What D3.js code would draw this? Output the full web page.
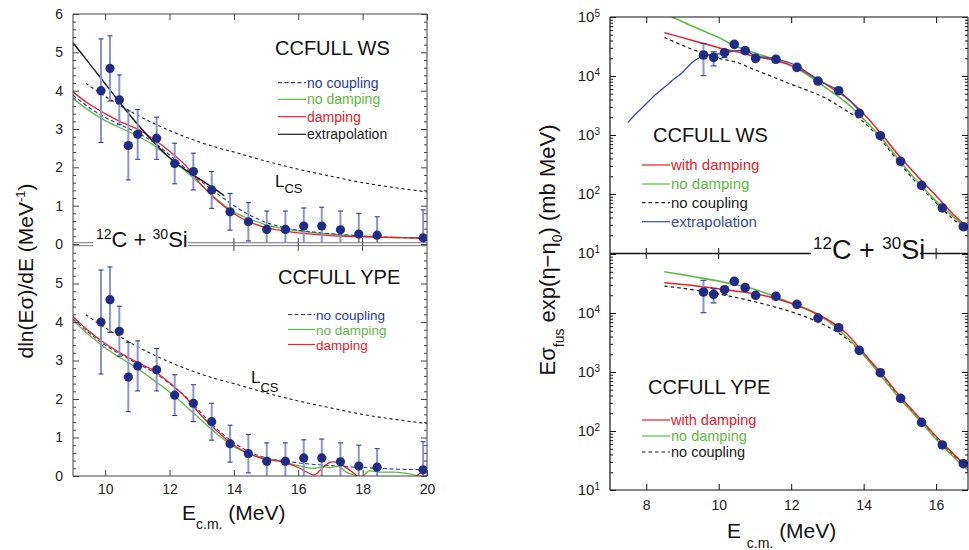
<!DOCTYPE html>
<html>
<head>
<meta charset="utf-8">
<script src="https://cdn.jsdelivr.net/npm/d3@7"></script>
<style>
  body { margin: 0; background: #fff; }
  svg { display: block; font-family: "Liberation Sans", Arial, Helvetica, sans-serif; }
</style>
</head>
<body>
<svg id="chart" width="969" height="550"></svg>
<script>
// ---------------- data: logarithmic slope (left panels) ----------------
const slopeE   = [9.87, 10.15, 10.44, 10.72, 11.01, 11.6, 12.16, 12.74, 13.31, 13.88, 14.45, 15.02, 15.6, 16.17, 16.73, 17.31, 17.88, 18.45, 19.88];
const slopeVal = [4.0, 4.58, 3.76, 2.57, 2.86, 2.76, 2.10, 1.89, 1.41, 0.84, 0.58, 0.38, 0.38, 0.47, 0.47, 0.37, 0.26, 0.23, 0.16];
const slopeErr = [1.35, 0.85, 0.65, 0.90, 0.65, 0.55, 0.53, 0.48, 0.48, 0.48, 0.50, 0.48, 0.48, 0.47, 0.49, 0.49, 0.54, 0.48, 0.73];

const gridL = [9, 9.5, 10, 10.5, 11, 11.5, 12, 12.5, 13, 13.5, 14, 14.5, 15, 15.5, 16, 16.5, 17, 17.5, 18, 18.5, 19, 19.5, 20];

const lcsE = [9.4, 10, 10.5, 11, 11.5, 12, 12.5, 13, 13.5, 14, 15, 16, 17, 18, 19, 20];
const lcs  = [4.19, 3.85, 3.60, 3.36, 3.15, 2.96, 2.79, 2.64, 2.51, 2.40, 2.16, 1.95, 1.77, 1.60, 1.47, 1.36];

// CCFULL WS
const wsDamp   = [3.97, 3.65, 3.40, 3.18, 3.00, 2.74, 2.42, 2.05, 1.53, 1.12, 0.79, 0.57, 0.43, 0.35, 0.29, 0.25, 0.22, 0.20, 0.19, 0.18, 0.17, 0.16, 0.15];
const wsNoDamp = [3.80, 3.48, 3.22, 3.02, 2.82, 2.58, 2.25, 1.90, 1.53, 1.14, 0.83, 0.65, 0.50, 0.41, 0.34, 0.29, 0.26, 0.22, 0.20, 0.18, 0.17, 0.16, 0.15];
const wsNoCoup = [3.88, 3.56, 3.30, 3.10, 2.90, 2.66, 2.32, 1.97, 1.62, 1.30, 1.00, 0.75, 0.56, 0.44, 0.36, 0.31, 0.27, 0.24, 0.21, 0.19, 0.17, 0.16, 0.15];
const extrapE  = [9, 9.5, 10, 10.5, 11, 11.5, 12, 12.5, 13, 13.5, 13.7];
const extrap   = [5.25, 4.72, 4.18, 3.64, 3.13, 2.66, 2.25, 1.93, 1.66, 1.38, 1.26];

// CCFULL YPE
const ypeDampE   = [9, 9.5, 10, 10.5, 11, 11.5, 12, 12.5, 13, 13.5, 14, 14.5, 15, 15.5, 16, 16.25, 16.5, 16.75, 17, 17.25, 17.5, 17.75, 18, 18.5, 19, 19.5, 19.75, 20];
const ypeDamp    = [4.14, 3.76, 3.44, 3.18, 2.95, 2.74, 2.42, 2.04, 1.56, 1.15, 0.80, 0.57, 0.43, 0.37, 0.22, 0.11, 0.03, 0.21, 0.36, 0.34, 0.21, 0.06, -0.12, -0.30, -0.30, -0.10, 0.05, 0.20];
const ypeNoDampE = [9, 9.5, 10, 10.5, 11, 11.5, 12, 12.5, 13, 13.5, 14, 14.5, 15, 15.5, 16, 16.25, 16.5, 16.75, 17, 17.25, 17.5, 17.75, 17.9, 18.05, 18.2, 18.5, 19, 19.5, 19.75, 20];
const ypeNoDamp  = [4.04, 3.66, 3.33, 3.05, 2.80, 2.49, 2.18, 1.82, 1.44, 1.07, 0.76, 0.57, 0.46, 0.38, 0.27, 0.22, 0.20, 0.24, 0.22, 0.25, 0.10, 0.02, -0.04, 0.03, 0.13, 0.10, 0.10, 0.05, 0.00, 0.00];
const ypeNoCoup  = [4.08, 3.72, 3.40, 3.15, 2.92, 2.70, 2.40, 2.06, 1.62, 1.20, 0.86, 0.62, 0.47, 0.40, 0.34, 0.30, 0.27, 0.24, 0.22, 0.20, 0.18, 0.17, 0.16];

// ---------------- data: E*sigma_fus*exp(eta-eta0) (right panels) ----------------
const sfE    = [9.58, 9.86, 10.16, 10.43, 10.73, 11.02, 11.58, 12.16, 12.74, 13.31, 13.88, 14.46, 15.02, 15.6, 16.17, 16.75];
const sfVal  = [22700, 20700, 24800, 34400, 26900, 19900, 19200, 14000, 8220, 5630, 2330, 973, 358, 140, 58, 27.9];
const sfLo   = [10100, 14800, 20500, 30500, 24500, 18900, 18200, 13300, 7800, 5350, 2210, 925, 340, 133, 55, 26.5];
const sfHi   = [35800, 25700, 28000, 38500, 29500, 20900, 20200, 14700, 8630, 5910, 2450, 1020, 376, 147, 61, 29.3];

const gridR = [8.5, 9, 9.5, 10, 10.5, 11, 11.5, 12, 12.5, 13, 13.5, 14, 14.5, 15, 15.5, 16, 16.5, 16.9];

// CCFULL WS
const rWsDamp   = [54200, 44700, 36700, 30200, 25700, 21400, 18600, 15000, 10700, 6920, 4370, 2290, 1020, 427, 195, 93.3, 43.7, 26.3];
const rWsNoDamp = [116100, 83200, 61000, 44700, 31600, 24500, 19700, 15100, 10000, 6030, 3630, 1860, 871, 363, 158, 75.9, 39.8, 24.0];
const rWsNoCoup = [45200, 33100, 25100, 20000, 17000, 12700, 9660, 7240, 5560, 4070, 2630, 1660, 794, 331, 145, 70.8, 36.3, 22.9];
const rExtrapE  = [7.49, 7.75, 8.0, 8.25, 8.5, 8.75, 9.0, 9.25, 9.5, 9.75, 10.16, 10.48, 10.75, 11.03, 11.58, 12.16, 12.74, 13.31, 13.88];
const rExtrap   = [1620, 2400, 3390, 4790, 6460, 8710, 11500, 16600, 20900, 22900, 24500, 26900, 26300, 21900, 19500, 14800, 8510, 5620, 2570];

// CCFULL YPE
const rYpeDamp   = [32700, 30500, 28200, 25700, 23400, 21100, 18200, 14500, 11200, 7760, 4680, 2090, 933, 389, 178, 81.3, 39.8, 23.4];
const rYpeNoDamp = [50100, 44700, 39400, 34700, 29900, 25100, 19500, 14800, 11000, 7410, 4070, 1950, 832, 351, 162, 72.4, 35.5, 20.9];
const rYpeNoCoup = [28600, 26300, 23700, 20900, 18200, 15500, 12900, 10500, 8130, 5890, 3800, 1950, 871, 363, 166, 75.9, 38.0, 22.4];

// ---------------- colours ----------------
const RED = "#e8202c", GREEN = "#5fba45", NAVY = "#2b3a98", BLACK = "#1a1a1a", EXTRA = "#3b4aa6";
const MARK = "#1f2b86", ERRBAR = "#8796cc";

const svg = d3.select("#chart");
const defs = svg.append("defs");
function clip(id, x0, y0, x1, y1) {
  defs.append("clipPath").attr("id", id).append("rect")
    .attr("x", x0).attr("y", y0).attr("width", x1 - x0).attr("height", y1 - y0);
  return `url(#${id})`;
}
const zip = (xs, ys) => xs.map((x, i) => [x, ys[i]]);

// ================= left: slope panels =================
const xL = d3.scaleLinear().domain([9, 20]).range([73, 427]);
const yWS = d3.scaleLinear().domain([0, 6]).range([244, 14]);
const yYP = d3.scaleLinear().domain([0, 6]).range([476, 245]);

function slopePanel(y, clipId, top, bottom, curves, showTopLabel) {
  const g = svg.append("g");
  const cp = clip(clipId, 73, top, 427, bottom);
  const line = d3.line().x(d => xL(d[0])).y(d => y(d[1])).curve(d3.curveCatmullRom.alpha(0.5));
  const cg = g.append("g").attr("clip-path", cp);
  curves.forEach(c => {
    cg.append("path").datum(zip(c.x, c.y)).attr("d", line)
      .attr("fill", "none").attr("stroke", c.color).attr("stroke-width", c.w || 1.3)
      .attr("stroke-dasharray", c.dash || null);
  });
  // data with error bars
  const pg = g.append("g").attr("clip-path", cp);
  slopeE.forEach((e, i) => {
    const x = xL(e), v = slopeVal[i], er = slopeErr[i];
    const yt = y(v + er), yb = Math.min(y(v - er), y(0));
    pg.append("line").attr("x1", x).attr("x2", x).attr("y1", yt).attr("y2", yb)
      .attr("stroke", ERRBAR).attr("stroke-width", 2);
    pg.append("line").attr("x1", x - 2.5).attr("x2", x + 2.5).attr("y1", yt).attr("y2", yt)
      .attr("stroke", MARK).attr("stroke-width", 1);
    if (v - er > 0) pg.append("line").attr("x1", x - 2.5).attr("x2", x + 2.5).attr("y1", yb).attr("y2", yb)
      .attr("stroke", MARK).attr("stroke-width", 1);
    pg.append("circle").attr("cx", x).attr("cy", y(v)).attr("r", 4.6).attr("fill", MARK);
  });
  // axes
  const major = showTopLabel ? [0, 1, 2, 3, 4, 5, 6] : [0, 1, 2, 3, 4, 5];
  const minor = d3.range(0, 30).map(k => k * 0.2).filter(v => Math.abs(v - Math.round(v)) > 1e-6);
  const left = svg.append("g").attr("transform", "translate(73,0)")
    .call(d3.axisLeft(y).tickValues(major).tickFormat(d3.format("d")).tickSize(-6).tickPadding(10));
  left.select(".domain").remove();
  left.selectAll("text").attr("font-size", 14).attr("fill", "#222").attr("font-family", "Liberation Sans, Arial, sans-serif");
  left.selectAll("line").attr("stroke", "#444");
  const lm = svg.append("g").attr("transform", "translate(73,0)")
    .call(d3.axisLeft(y).tickValues(minor).tickFormat("").tickSize(-3));
  lm.select(".domain").remove(); lm.selectAll("line").attr("stroke", "#444");
  const right = svg.append("g").attr("transform", "translate(427,0)")
    .call(d3.axisRight(y).tickValues([0, 1, 2, 3, 4, 5, 6]).tickFormat("").tickSize(-6));
  right.select(".domain").remove(); right.selectAll("line").attr("stroke", "#444");
  const rm = svg.append("g").attr("transform", "translate(427,0)")
    .call(d3.axisRight(y).tickValues(minor).tickFormat("").tickSize(-3));
  rm.select(".domain").remove(); rm.selectAll("line").attr("stroke", "#444");
  return g;
}

slopePanel(yWS, "clipWS", 14, 243, [
  { x: lcsE, y: lcs, color: BLACK, dash: "3,3", w: 1.1 },
  { x: gridL, y: wsNoDamp, color: GREEN },
  { x: gridL, y: wsNoCoup, color: NAVY, dash: "4,2.5", w: 1.1 },
  { x: gridL, y: wsDamp, color: RED },
  { x: extrapE, y: extrap, color: BLACK, w: 1.4 }
], true);

slopePanel(yYP, "clipYP", 246, 476, [
  { x: lcsE, y: lcs, color: BLACK, dash: "3,3", w: 1.1 },
  { x: gridL, y: ypeNoCoup, color: NAVY, dash: "4,2.5", w: 1.1 },
  { x: ypeNoDampE, y: ypeNoDamp, color: GREEN },
  { x: ypeDampE, y: ypeDamp, color: RED }
], false);

// left frame: outer borders
svg.append("line").attr("x1", 73).attr("x2", 73).attr("y1", 14).attr("y2", 476).attr("stroke", "#444");
svg.append("line").attr("x1", 427).attr("x2", 427).attr("y1", 14).attr("y2", 476).attr("stroke", "#444");
svg.append("line").attr("x1", 73).attr("x2", 427).attr("y1", 14).attr("y2", 14).attr("stroke", "#444");
svg.append("line").attr("x1", 73).attr("x2", 427).attr("y1", 476).attr("y2", 476).attr("stroke", "#444");

// top border ticks and bottom axis
const topAx = svg.append("g").attr("transform", "translate(0,14)")
  .call(d3.axisTop(xL).tickValues([10, 12, 14, 16, 18, 20]).tickFormat("").tickSize(-6));
topAx.select(".domain").remove(); topAx.selectAll("line").attr("stroke", "#444");
const botAx = svg.append("g").attr("transform", "translate(0,476)")
  .call(d3.axisBottom(xL).tickValues([10, 12, 14, 16, 18, 20]).tickFormat(d3.format("d")).tickSize(-6).tickPadding(8));
botAx.select(".domain").remove(); botAx.selectAll("line").attr("stroke", "#444");
botAx.selectAll("text").attr("font-size", 14).attr("fill", "#222").attr("font-family", "Liberation Sans, Arial, sans-serif");

// double separator between the two slope panels, with the reaction label
[[73, 93], [188, 427]].forEach(([a, b]) => {
  [242.7, 245.7].forEach(yy => svg.append("line").attr("x1", a).attr("x2", b).attr("y1", yy).attr("y2", yy)
    .attr("stroke", "#777").attr("stroke-width", 1));
});
svg.selectAll(".sepTick").data([14, 16, 18]).enter().append("line")
  .attr("x1", d => xL(d)).attr("x2", d => xL(d)).attr("y1", 238).attr("y2", 251).attr("stroke", "#444");
function reaction(x, y, big, small) {
  const t = svg.append("text").attr("x", x).attr("y", y).attr("font-size", big).attr("fill", "#111");
  t.append("tspan").attr("font-size", small).attr("dy", -big * 0.38).text("12");
  t.append("tspan").attr("dy", big * 0.38).text("C + ");
  t.append("tspan").attr("font-size", small).attr("dy", -big * 0.38).text("30");
  t.append("tspan").attr("dy", big * 0.38).text("Si");
}
reaction(96, 247, 22, 14);

// panel titles and legends (left)
function text(x, y, s, size, color, anchor) {
  return svg.append("text").attr("x", x).attr("y", y).attr("font-size", size)
    .attr("fill", color || "#111").attr("text-anchor", anchor || "start").text(s);
}
text(275, 55, "CCFULL WS", 20);
text(278, 283.5, "CCFULL YPE", 20);

function legend(x0, x1, ys, items, size) {
  items.forEach((it, i) => {
    svg.append("line").attr("x1", x0).attr("x2", x1).attr("y1", ys[i]).attr("y2", ys[i])
      .attr("stroke", it.color).attr("stroke-width", 1.2).attr("stroke-dasharray", it.dash || null);
    text(x1 + 1, ys[i] + 5, it.label, size, it.text || it.color);
  });
}
legend(278, 306, [82.7, 99.3, 116.7, 134.3], [
  { label: "no coupling", color: NAVY, dash: "4,2.5" },
  { label: "no damping", color: GREEN },
  { label: "damping", color: RED },
  { label: "extrapolation", color: BLACK }
], 14);
legend(288, 315, [314.5, 329.5, 344.5], [
  { label: "no coupling", color: NAVY, dash: "4,2.5" },
  { label: "no damping", color: GREEN },
  { label: "damping", color: RED }
], 13.5);

function lcsLabel(x, y, sub) {
  const t = svg.append("text").attr("x", x).attr("y", y).attr("font-size", 17).attr("fill", "#111");
  t.append("tspan").text("L");
  t.append("tspan").attr("font-size", 13).attr("dy", sub).text("CS");
}
lcsLabel(275, 187, 6);
lcsLabel(251, 383, 9);

// axis titles (left)
{
  const t = svg.append("text").attr("transform", "translate(33,271) rotate(-90)")
    .attr("text-anchor", "middle").attr("font-size", 21).attr("fill", "#111");
  t.append("tspan").text("dln(E\u03C3)/dE (MeV");
  t.append("tspan").attr("font-size", 13).attr("dy", -8).text("-1");
  t.append("tspan").attr("dy", 8).text(")");
  const b = svg.append("text").attr("x", 182).attr("y", 520).attr("font-size", 21).attr("fill", "#111");
  b.append("tspan").text("E");
  b.append("tspan").attr("font-size", 14).attr("dy", 9).text("c.m.");
  b.append("tspan").attr("dy", -9).text(" (MeV)");
}

// ================= right: cross-section panels =================
const xR = d3.scaleLinear().domain([7, 16.88]).range([610, 968]);
const yRW = d3.scaleLog().domain([10, 1e5]).range([253, 17]);
const yRY = d3.scaleLog().domain([10, 1e5]).range([490, 254]);

function sigmaPanel(y, clipId, top, bottom, curves, labels) {
  const cp = clip(clipId, 610, top, 968, bottom);
  const line = d3.line().x(d => xR(d[0])).y(d => y(d[1])).curve(d3.curveCatmullRom.alpha(0.5));
  const cg = svg.append("g").attr("clip-path", cp);
  curves.forEach(c => {
    cg.append("path").datum(zip(c.x, c.y)).attr("d", line)
      .attr("fill", "none").attr("stroke", c.color).attr("stroke-width", c.w || 1.4)
      .attr("stroke-dasharray", c.dash || null);
  });
  const pg = svg.append("g").attr("clip-path", cp);
  sfE.forEach((e, i) => {
    const x = xR(e);
    pg.append("line").attr("x1", x).attr("x2", x).attr("y1", y(sfHi[i])).attr("y2", y(sfLo[i]))
      .attr("stroke", ERRBAR).attr("stroke-width", 2);
    [sfHi[i], sfLo[i]].forEach(v => pg.append("line").attr("x1", x - 3).attr("x2", x + 3)
      .attr("y1", y(v)).attr("y2", y(v)).attr("stroke", MARK).attr("stroke-width", 1));
    pg.append("circle").attr("cx", x).attr("cy", y(sfVal[i])).attr("r", 4.8).attr("fill", MARK);
  });
  const decades = [10, 100, 1000, 1e4, 1e5];
  const minor = [];
  [10, 100, 1000, 1e4].forEach(d => { for (let k = 2; k <= 9; k++) minor.push(d * k); });
  const left = svg.append("g").attr("transform", "translate(610,0)")
    .call(d3.axisLeft(y).tickValues(labels).tickFormat(() => "10").tickSize(-6).tickPadding(10));
  left.select(".domain").remove(); left.selectAll("line").attr("stroke", "#111");
  left.selectAll("text").attr("font-size", 15).attr("fill", "#222").attr("font-family", "Liberation Sans, Arial, sans-serif")
    .each(function (d) {
      d3.select(this).append("tspan").attr("dy", "-0.55em").attr("font-size", 10).text(Math.round(Math.log10(d)));
    });
  const lt = svg.append("g").attr("transform", "translate(610,0)")
    .call(d3.axisLeft(y).tickValues(decades).tickFormat("").tickSize(-6));
  lt.select(".domain").remove(); lt.selectAll("line").attr("stroke", "#111");
  const lm = svg.append("g").attr("transform", "translate(610,0)")
    .call(d3.axisLeft(y).tickValues(minor).tickFormat("").tickSize(-3));
  lm.select(".domain").remove(); lm.selectAll("line").attr("stroke", "#111");
  const rt = svg.append("g").attr("transform", "translate(968,0)")
    .call(d3.axisRight(y).tickValues(decades).tickFormat("").tickSize(-6));
  rt.select(".domain").remove(); rt.selectAll("line").attr("stroke", "#111");
  const rm = svg.append("g").attr("transform", "translate(968,0)")
    .call(d3.axisRight(y).tickValues(minor).tickFormat("").tickSize(-3));
  rm.select(".domain").remove(); rm.selectAll("line").attr("stroke", "#111");
}

sigmaPanel(yRW, "clipRW", 17, 253, [
  { x: gridR, y: rWsNoCoup, color: BLACK, dash: "3.5,3", w: 1.2 },
  { x: gridR, y: rWsNoDamp, color: GREEN, w: 1.6 },
  { x: gridR, y: rWsDamp, color: RED, w: 1.5 },
  { x: rExtrapE, y: rExtrap, color: EXTRA, w: 1.3 }
], [10, 100, 1000, 1e4, 1e5]);

sigmaPanel(yRY, "clipRY", 254, 490, [
  { x: gridR, y: rYpeNoCoup, color: BLACK, dash: "3.5,3", w: 1.2 },
  { x: gridR, y: rYpeNoDamp, color: GREEN, w: 1.6 },
  { x: gridR, y: rYpeDamp, color: RED, w: 1.5 }
], [10, 100, 1000, 1e4]);

// right frame
svg.append("line").attr("x1", 610).attr("x2", 610).attr("y1", 17).attr("y2", 490).attr("stroke", "#111").attr("stroke-width", 1.2);
svg.append("line").attr("x1", 968).attr("x2", 968).attr("y1", 17).attr("y2", 490).attr("stroke", "#111");
svg.append("line").attr("x1", 610).attr("x2", 968).attr("y1", 17).attr("y2", 17).attr("stroke", "#111");
svg.append("line").attr("x1", 610).attr("x2", 968).attr("y1", 490).attr("y2", 490).attr("stroke", "#111").attr("stroke-width", 1.2);
[[610, 811], [920, 968]].forEach(([a, b]) => svg.append("line").attr("x1", a).attr("x2", b)
  .attr("y1", 253.5).attr("y2", 253.5).attr("stroke", "#111").attr("stroke-width", 1.5));
svg.selectAll(".sepTickR").data([8, 10, 16]).enter().append("line")
  .attr("x1", d => xR(d)).attr("x2", d => xR(d)).attr("y1", 248).attr("y2", 259).attr("stroke", "#111");

const topR = svg.append("g").attr("transform", "translate(0,17)")
  .call(d3.axisTop(xR).tickValues([8, 10, 12, 14, 16]).tickFormat("").tickSize(-6));
topR.select(".domain").remove(); topR.selectAll("line").attr("stroke", "#111");
const botR = svg.append("g").attr("transform", "translate(0,490)")
  .call(d3.axisBottom(xR).tickValues([8, 10, 12, 14, 16]).tickFormat(d3.format("d")).tickSize(-6).tickPadding(10));
botR.select(".domain").remove(); botR.selectAll("line").attr("stroke", "#111");
botR.selectAll("text").attr("font-size", 14).attr("fill", "#222").attr("font-family", "Liberation Sans, Arial, sans-serif");

reaction(813, 259, 27, 17);

text(653, 142, "CCFULL WS", 20);
text(648, 393.5, "CCFULL YPE", 20);
legend(642, 670, [165, 184, 202.7, 221.7], [
  { label: "with damping", color: RED },
  { label: "no damping", color: GREEN },
  { label: "no coupling", color: BLACK, dash: "3.5,3" },
  { label: "extrapolation", color: EXTRA }
], 15);
legend(642, 670, [420, 436, 452], [
  { label: "with damping", color: RED },
  { label: "no damping", color: GREEN },
  { label: "no coupling", color: BLACK, dash: "3.5,3" }
], 14.5);

// axis titles (right)
{
  const t = svg.append("text").attr("transform", "translate(555,250) rotate(-90)")
    .attr("text-anchor", "middle").attr("font-size", 22).attr("fill", "#111");
  t.append("tspan").text("E\u03C3");
  t.append("tspan").attr("font-size", 14).attr("dy", 9).text("fus");
  t.append("tspan").attr("dy", -9).text(" exp(\u03B7\u2212\u03B7");
  t.append("tspan").attr("font-size", 14).attr("dy", 7).text("0");
  t.append("tspan").attr("dy", -7).text(")  (mb MeV)");
  const b = svg.append("text").attr("x", 727).attr("y", 538).attr("font-size", 21).attr("fill", "#111");
  b.append("tspan").text("E ");
  b.append("tspan").attr("font-size", 14).attr("dy", 10).text("c.m.");
  b.append("tspan").attr("dy", -10).text(" (MeV)");
}
</script>
</body>
</html>
